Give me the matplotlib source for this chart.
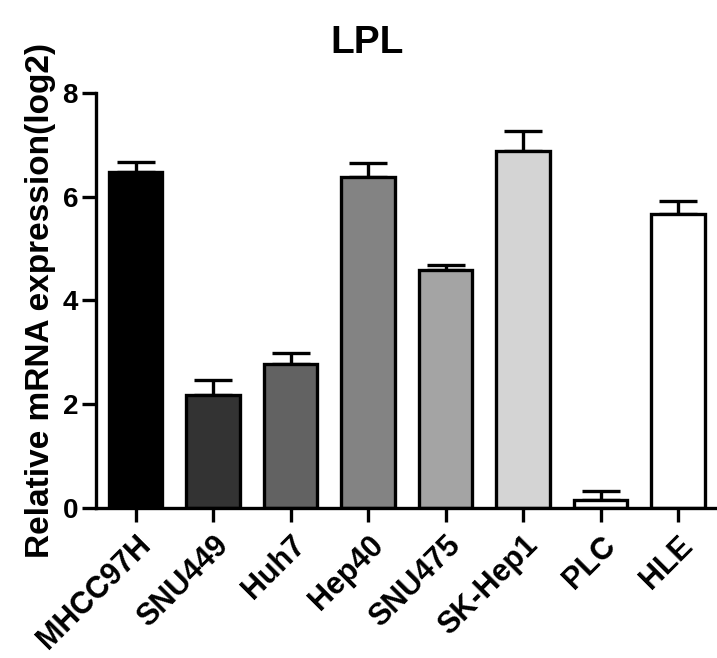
import matplotlib
matplotlib.use("Agg")
import matplotlib.pyplot as plt
import numpy as np

plt.rcParams['font.family'] = ['Liberation Sans', 'DejaVu Sans']
plt.rcParams['font.weight'] = 'bold'

categories = ["MHCC97H", "SNU449", "Huh7", "Hep40", "SNU475", "SK-Hep1", "PLC", "HLE"]
values = [6.47, 2.17, 2.78, 6.38, 4.59, 6.87, 0.16, 5.67]
errors = [0.19, 0.30, 0.21, 0.26, 0.09, 0.39, 0.17, 0.24]
colors = ["#000000", "#333333", "#626262", "#838383", "#a4a4a4", "#d4d4d4", "#ffffff", "#ffffff"]
title = "LPL"
ylabel = "Relative mRNA expression(log2)"
yticks = [0, 2, 4, 6, 8]

fig = plt.figure(figsize=(7.17, 6.58), dpi=100)
ax = fig.add_axes([0.134, 0.228, 0.866, 0.631])

x = np.arange(len(categories))
ax.bar(x, values, width=0.69, color=colors, edgecolor="black", linewidth=2.4, zorder=2)
ax.errorbar(x, values, yerr=[np.zeros(len(errors)), errors], fmt="none",
            ecolor="black", elinewidth=2.4, capsize=14, capthick=2.4, zorder=1)

ax.set_xlim(-0.51, 7.5)
ax.set_ylim(0, 8)
ax.set_yticks(yticks)
ax.set_xticks(x)
ax.set_xticklabels(categories, rotation=45, ha="right", rotation_mode="anchor",
                   fontsize=22, fontweight="bold")
ax.set_yticklabels([str(t) for t in yticks], fontsize=20, fontweight="bold")
ax.set_ylabel(ylabel, fontsize=24, fontweight="bold", labelpad=5)

for s in ["top", "right"]:
    ax.spines[s].set_visible(False)
for s in ["left", "bottom"]:
    ax.spines[s].set_linewidth(2.4)
ax.tick_params(axis="both", width=2.4, length=10, pad=3)
ax.tick_params(axis="x", pad=6)

fig.text(0.512, 0.935, title, ha="center", va="center", fontsize=28, fontweight="bold")

fig.savefig("out.png", dpi=100)
